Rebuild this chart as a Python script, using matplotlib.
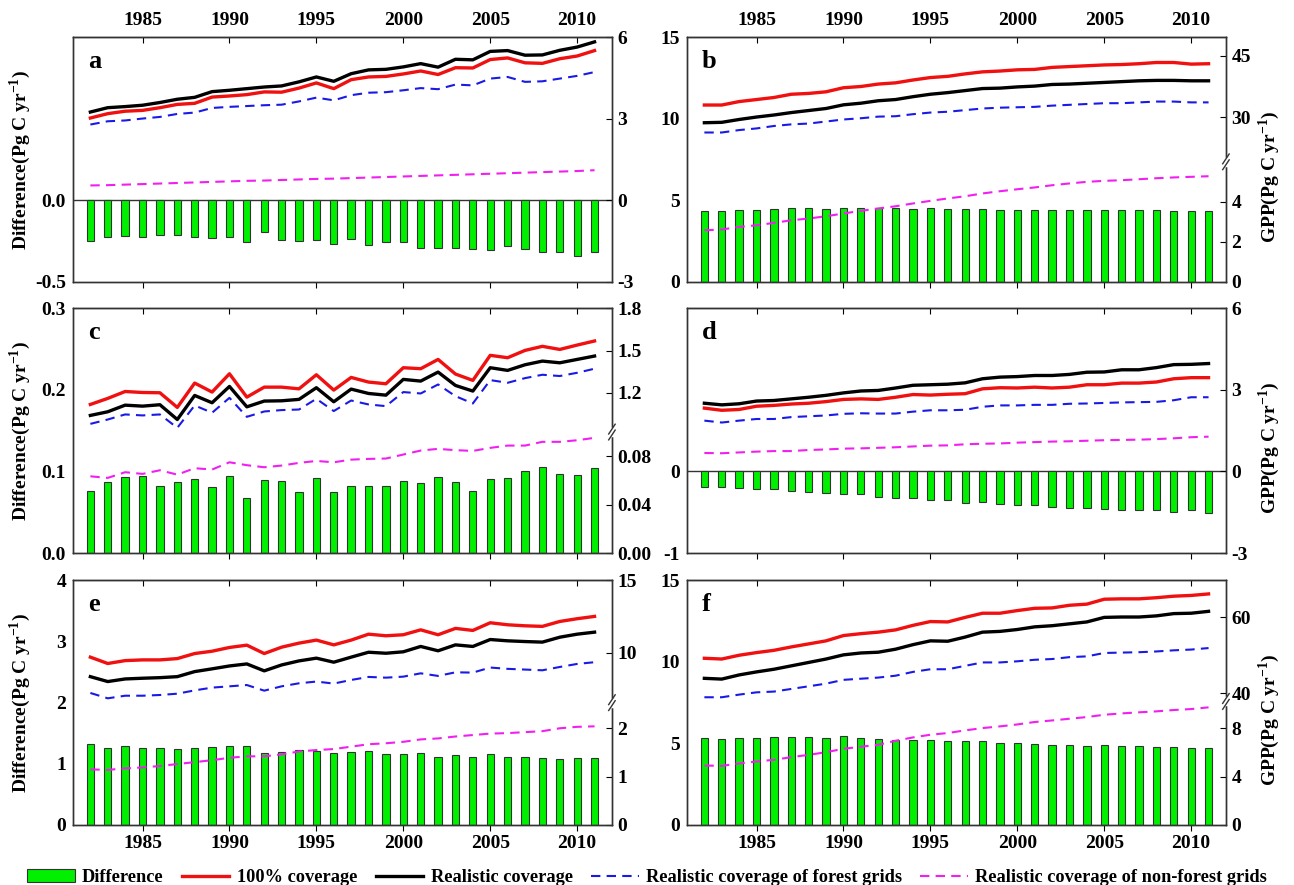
import numpy as np
import matplotlib
matplotlib.use('Agg')
import matplotlib.pyplot as plt
from matplotlib.patches import Patch
from matplotlib.lines import Line2D

plt.rcParams['font.family'] = ['Liberation Serif', 'DejaVu Serif']
plt.rcParams['font.weight'] = 'bold'
plt.rcParams['axes.labelweight'] = 'bold'
plt.rcParams['axes.unicode_minus'] = False
plt.rcParams['mathtext.fontset'] = 'custom'
plt.rcParams['mathtext.rm'] = 'Liberation Serif:bold'
plt.rcParams['mathtext.bf'] = 'Liberation Serif:bold'

years = list(range(1982, 2012))
year_ticks = [1985, 1990, 1995, 2000, 2005, 2010]

# ---- panel a
a_diff = [-0.246, -0.223, -0.219, -0.223, -0.210, -0.213, -0.227, -0.231, -0.225, -0.254,
          -0.194, -0.240, -0.250, -0.244, -0.267, -0.235, -0.273, -0.254, -0.254, -0.290,
          -0.292, -0.294, -0.298, -0.302, -0.279, -0.298, -0.317, -0.317, -0.338, -0.317]
a_full = [3.03, 3.19, 3.28, 3.31, 3.41, 3.53, 3.57, 3.80, 3.84, 3.89,
          3.99, 3.98, 4.13, 4.32, 4.11, 4.44, 4.54, 4.56, 4.65, 4.76,
          4.63, 4.88, 4.87, 5.18, 5.24, 5.06, 5.04, 5.21, 5.31, 5.51]
a_real = [3.25, 3.41, 3.45, 3.50, 3.60, 3.72, 3.79, 4.00, 4.05, 4.11,
          4.17, 4.21, 4.36, 4.54, 4.38, 4.66, 4.80, 4.82, 4.91, 5.03,
          4.90, 5.19, 5.17, 5.48, 5.51, 5.34, 5.35, 5.52, 5.64, 5.83]
a_forest = [2.79, 2.91, 2.94, 3.01, 3.07, 3.18, 3.23, 3.40, 3.44, 3.47,
            3.50, 3.52, 3.64, 3.78, 3.68, 3.87, 3.96, 3.98, 4.05, 4.13,
            4.09, 4.26, 4.23, 4.48, 4.54, 4.36, 4.38, 4.48, 4.58, 4.72]
a_nonforest = [0.55, 0.56, 0.58, 0.60, 0.62, 0.64, 0.66, 0.68, 0.70, 0.72,
               0.73, 0.75, 0.77, 0.79, 0.80, 0.82, 0.84, 0.86, 0.88, 0.90,
               0.92, 0.94, 0.96, 0.98, 1.00, 1.02, 1.04, 1.06, 1.08, 1.11]

# ---- panel b
b_diff = [4.36, 4.38, 4.40, 4.42, 4.46, 4.52, 4.52, 4.50, 4.56, 4.54,
          4.56, 4.54, 4.50, 4.52, 4.48, 4.50, 4.48, 4.44, 4.44, 4.42,
          4.44, 4.42, 4.42, 4.42, 4.42, 4.40, 4.40, 4.38, 4.36, 4.34]
b_full = [32.95, 32.95, 33.8, 34.3, 34.8, 35.6, 35.8, 36.2, 37.2, 37.5,
          38.1, 38.4, 39.1, 39.7, 40.0, 40.6, 41.1, 41.3, 41.6, 41.7,
          42.2, 42.4, 42.6, 42.8, 42.9, 43.1, 43.4, 43.4, 43.0, 43.1]
b_real = [28.6, 28.7, 29.4, 30.0, 30.5, 31.1, 31.6, 32.1, 33.0, 33.4,
          34.0, 34.3, 35.0, 35.6, 36.0, 36.5, 37.0, 37.1, 37.4, 37.6,
          38.0, 38.1, 38.3, 38.5, 38.7, 38.9, 39.0, 39.0, 38.9, 38.9]
b_forest = [26.2, 26.2, 26.8, 27.2, 27.8, 28.2, 28.4, 28.9, 29.4, 29.7,
            30.1, 30.2, 30.7, 31.1, 31.3, 31.7, 32.1, 32.3, 32.4, 32.5,
            32.8, 33.0, 33.2, 33.4, 33.4, 33.6, 33.8, 33.8, 33.6, 33.6]
b_nonforest = [2.58, 2.62, 2.75, 2.83, 2.95, 3.08, 3.17, 3.28, 3.42, 3.55,
               3.67, 3.78, 3.92, 4.05, 4.17, 4.28, 4.42, 4.53, 4.63, 4.72,
               4.83, 4.92, 5.00, 5.05, 5.08, 5.13, 5.18, 5.22, 5.25, 5.28]

# ---- panel c
c_diff = [0.0765, 0.0875, 0.0933, 0.0949, 0.0826, 0.0867, 0.0908, 0.0810, 0.0940, 0.0675,
          0.0896, 0.0883, 0.0753, 0.0920, 0.0753, 0.0822, 0.0822, 0.0822, 0.0888, 0.0855,
          0.0933, 0.0867, 0.0761, 0.0912, 0.0920, 0.1002, 0.1060, 0.0973, 0.0961, 0.1043]
c_full = [1.117, 1.160, 1.209, 1.202, 1.200, 1.096, 1.269, 1.205, 1.335, 1.169,
          1.240, 1.240, 1.228, 1.328, 1.219, 1.309, 1.276, 1.264, 1.378, 1.371,
          1.437, 1.333, 1.288, 1.466, 1.449, 1.501, 1.530, 1.508, 1.539, 1.568]
c_real = [1.039, 1.065, 1.112, 1.105, 1.115, 1.010, 1.181, 1.129, 1.245, 1.100,
          1.141, 1.143, 1.153, 1.236, 1.136, 1.226, 1.195, 1.183, 1.295, 1.283,
          1.347, 1.252, 1.212, 1.378, 1.359, 1.399, 1.425, 1.413, 1.437, 1.461]
c_forest = [0.979, 1.010, 1.046, 1.039, 1.046, 0.951, 1.110, 1.058, 1.164, 1.029,
            1.067, 1.077, 1.081, 1.157, 1.070, 1.145, 1.117, 1.105, 1.205, 1.195,
            1.259, 1.176, 1.124, 1.290, 1.271, 1.304, 1.328, 1.319, 1.342, 1.371]
c_nonforest = [0.0634, 0.0621, 0.0668, 0.0654, 0.0684, 0.0648, 0.0701, 0.0690, 0.0750, 0.0726,
               0.0709, 0.0723, 0.0745, 0.0761, 0.0750, 0.0772, 0.0778, 0.0781, 0.0814, 0.0847,
               0.0861, 0.0850, 0.0844, 0.0869, 0.0888, 0.0888, 0.0919, 0.0919, 0.0932, 0.0952]

# ---- panel d
d_diff = [-0.185, -0.185, -0.198, -0.210, -0.218, -0.235, -0.247, -0.259, -0.272, -0.272,
          -0.313, -0.321, -0.321, -0.350, -0.346, -0.383, -0.379, -0.395, -0.416, -0.412,
          -0.436, -0.449, -0.449, -0.457, -0.469, -0.473, -0.473, -0.494, -0.477, -0.510]
d_full = [2.33, 2.25, 2.28, 2.40, 2.43, 2.48, 2.51, 2.57, 2.65, 2.67,
          2.65, 2.73, 2.83, 2.81, 2.84, 2.86, 3.04, 3.08, 3.07, 3.10,
          3.07, 3.10, 3.19, 3.19, 3.25, 3.25, 3.29, 3.41, 3.45, 3.45]
d_real = [2.51, 2.45, 2.49, 2.59, 2.61, 2.67, 2.73, 2.80, 2.89, 2.96,
          2.98, 3.07, 3.17, 3.19, 3.21, 3.26, 3.41, 3.47, 3.49, 3.53,
          3.53, 3.57, 3.65, 3.66, 3.74, 3.74, 3.82, 3.93, 3.94, 3.97]
d_forest = [1.87, 1.80, 1.87, 1.93, 1.93, 2.00, 2.03, 2.06, 2.12, 2.14,
            2.13, 2.13, 2.20, 2.25, 2.25, 2.27, 2.38, 2.43, 2.43, 2.45,
            2.45, 2.49, 2.50, 2.52, 2.54, 2.55, 2.56, 2.62, 2.73, 2.73]
d_nonforest = [0.68, 0.67, 0.70, 0.73, 0.75, 0.75, 0.79, 0.81, 0.84, 0.85,
               0.87, 0.89, 0.92, 0.95, 0.96, 1.00, 1.02, 1.03, 1.06, 1.08,
               1.10, 1.11, 1.13, 1.15, 1.16, 1.17, 1.19, 1.22, 1.26, 1.28]

# ---- panel e
e_diff = [1.326, 1.255, 1.287, 1.266, 1.260, 1.249, 1.266, 1.277, 1.293, 1.298,
          1.178, 1.200, 1.233, 1.217, 1.173, 1.200, 1.217, 1.157, 1.162, 1.184,
          1.113, 1.151, 1.113, 1.162, 1.107, 1.107, 1.091, 1.080, 1.091, 1.097]
e_full = [9.68, 9.24, 9.44, 9.49, 9.49, 9.58, 9.93, 10.09, 10.35, 10.51,
          9.93, 10.37, 10.65, 10.86, 10.53, 10.86, 11.27, 11.16, 11.23, 11.57,
          11.23, 11.67, 11.53, 12.06, 11.92, 11.85, 11.81, 12.15, 12.34, 12.50]
e_real = [8.33, 7.99, 8.17, 8.22, 8.26, 8.33, 8.68, 8.87, 9.07, 9.21,
          8.73, 9.14, 9.42, 9.61, 9.33, 9.68, 10.02, 9.95, 10.05, 10.42,
          10.12, 10.53, 10.42, 10.90, 10.81, 10.76, 10.72, 11.06, 11.27, 11.41]
e_forest = [7.20, 6.83, 7.01, 7.01, 7.06, 7.15, 7.38, 7.57, 7.66, 7.75,
            7.36, 7.66, 7.87, 7.99, 7.85, 8.10, 8.31, 8.26, 8.33, 8.56,
            8.38, 8.63, 8.61, 8.96, 8.87, 8.82, 8.77, 9.00, 9.21, 9.33]
e_nonforest = [1.15, 1.14, 1.17, 1.19, 1.22, 1.26, 1.30, 1.34, 1.39, 1.42,
               1.42, 1.46, 1.52, 1.55, 1.57, 1.62, 1.67, 1.69, 1.72, 1.77,
               1.79, 1.83, 1.86, 1.89, 1.90, 1.92, 1.94, 2.00, 2.03, 2.04]

# ---- panel f
f_diff = [5.32, 5.28, 5.36, 5.36, 5.38, 5.38, 5.38, 5.36, 5.44, 5.36,
          5.30, 5.24, 5.24, 5.24, 5.13, 5.15, 5.13, 5.05, 5.01, 4.99,
          4.93, 4.89, 4.85, 4.89, 4.85, 4.83, 4.81, 4.76, 4.74, 4.74]
f_full = [49.2, 49.0, 50.0, 50.7, 51.3, 52.2, 53.0, 53.8, 55.2, 55.7,
          56.1, 56.7, 57.9, 58.9, 58.8, 60.0, 61.1, 61.1, 61.8, 62.4,
          62.5, 63.2, 63.5, 64.8, 64.9, 64.9, 65.2, 65.6, 65.8, 66.2]
f_real = [43.9, 43.7, 44.8, 45.6, 46.3, 47.2, 48.1, 49.0, 50.1, 50.6,
          50.8, 51.6, 52.8, 53.8, 53.7, 54.8, 56.1, 56.3, 56.8, 57.5,
          57.8, 58.3, 58.8, 60.0, 60.1, 60.1, 60.4, 61.0, 61.1, 61.6]
f_forest = [38.9, 38.9, 39.6, 40.2, 40.4, 41.1, 41.8, 42.5, 43.5, 43.8,
            44.1, 44.6, 45.6, 46.3, 46.3, 47.2, 48.1, 48.1, 48.4, 48.8,
            49.0, 49.5, 49.7, 50.6, 50.7, 50.8, 51.0, 51.3, 51.5, 51.9]
f_nonforest = [4.91, 4.88, 5.08, 5.24, 5.38, 5.60, 5.79, 6.01, 6.29, 6.46,
               6.62, 6.95, 7.23, 7.45, 7.59, 7.81, 8.00, 8.14, 8.30, 8.50,
               8.63, 8.77, 8.91, 9.10, 9.21, 9.30, 9.38, 9.49, 9.57, 9.71]

GREEN = '#00f000'
RED = '#f01010'
BLUE = '#1a1ae6'
MAGENTA = '#f020f0'
FS = 14
DASH = (4.5, 3)
LW_SOLID = 2.4
LW_DASH = 1.5


def broken_scale(lo0, lo1, up0, up1, f):
    # piecewise linear: [lo0, lo1] -> [0, f], [up0, up1] -> [f, 1]
    def fwd(v):
        v = np.asarray(v, dtype=float)
        low = (v - lo0) / (lo1 - lo0) * f
        high = f + (v - up0) / (up1 - up0) * (1 - f)
        return np.where(v <= lo1, low, np.where(v >= up0, high, f))

    def inv(t):
        t = np.asarray(t, dtype=float)
        return np.where(t <= f, lo0 + t / f * (lo1 - lo0),
                        up0 + (t - f) / (1 - f) * (up1 - up0))
    return fwd, inv


def panel(rect, letter, diff, full, real, forest, nonforest,
          left_lim, left_ticks, left_labels, right_ticks, right_labels,
          right_lin=None, right_break=None, row=0, col=0):
    ax = fig.add_axes(rect)
    ax.bar(years, diff, width=0.42, color=GREEN, edgecolor='#333333',
           linewidth=0.8, zorder=2)
    if left_lim[0] < 0:
        ax.axhline(0, color='#333333', lw=1.0, zorder=1)
    ax.set_xlim(1981, 2012)
    ax.set_ylim(*left_lim)
    ax.set_yticks(left_ticks, left_labels)
    ax.tick_params(axis='y', length=0, labelsize=FS, pad=5)
    ax.set_xticks(year_ticks)
    ax.tick_params(axis='x', direction='out', length=4, labelsize=FS,
                   labelbottom=(row == 2))
    top = ax.secondary_xaxis('top')
    top.set_xticks(year_ticks)
    top.tick_params(direction='in', length=4, labelsize=FS,
                    labeltop=(row == 0), pad=6)

    ax2 = ax.twinx()
    if right_break is not None:
        lo0, lo1, up0, up1, f = right_break
        ax2.set_yscale('function', functions=broken_scale(lo0, lo1, up0, up1, f))
        ax2.set_ylim(lo0, up1)
    else:
        ax2.set_ylim(*right_lin)
    ax2.plot(years, full, color=RED, lw=LW_SOLID)
    ax2.plot(years, real, color='black', lw=LW_SOLID)
    ax2.plot(years, forest, color=BLUE, lw=LW_DASH, dashes=DASH)
    ax2.plot(years, nonforest, color=MAGENTA, lw=LW_DASH, dashes=DASH)
    ax2.set_yticks(right_ticks, right_labels)
    ax2.yaxis.set_minor_locator(plt.NullLocator())
    ax2.tick_params(axis='y', direction='in', length=4, labelsize=FS, pad=4)

    if right_break is not None:
        f = right_break[4]
        ax2.plot([1, 1], [f - 0.012, f + 0.012], color='white', lw=2.5,
                 transform=ax2.transAxes, clip_on=False, zorder=5)
        for off in (-0.012, 0.012):
            ax2.plot([1 - 0.006, 1 + 0.006], [f + off - 0.02, f + off + 0.02],
                     color='#333333', lw=1.0, transform=ax2.transAxes,
                     clip_on=False, zorder=6)

    for a in (ax, ax2):
        for s in a.spines.values():
            s.set_color('#333333')
            s.set_linewidth(1.0)

    ax.text(0.028, 0.9, letter, transform=ax.transAxes, fontsize=19,
            fontweight='bold', va='center', ha='left')
    if col == 0:
        ax.set_ylabel('Difference(Pg C yr$^{-1}$)', fontsize=FS)
        ax.yaxis.set_label_coords(-0.074, 0.5)
    else:
        ax2.set_ylabel('GPP(Pg C yr$^{-1}$)', fontsize=FS)
        ax2.yaxis.set_label_coords(1.056, 0.43)
    return ax, ax2


fig = plt.figure(figsize=(12.94, 8.85), dpi=100)

lx, rx, cw = 0.0564, 0.5309, 0.4165
rows_y = [0.6814, 0.3751, 0.0678]
rh = 0.2765

panel([lx, rows_y[0], cw, rh], 'a', a_diff, a_full, a_real, a_forest, a_nonforest,
      (-0.5, 1.0), [-0.5, 0.0], ['-0.5', '0.0'], [-3, 0, 3, 6], ['-3', '0', '3', '6'],
      right_lin=(-3, 6), row=0, col=0)
panel([rx, rows_y[0], cw, rh], 'b', b_diff, b_full, b_real, b_forest, b_nonforest,
      (0, 15), [0, 5, 10, 15], ['0', '5', '10', '15'],
      [0, 2, 4, 30, 45], ['0', '2', '4', '30', '45'],
      right_break=(0, 6.0, 19.0, 49.6, 0.491), row=0, col=1)
panel([lx, rows_y[1], cw, rh], 'c', c_diff, c_full, c_real, c_forest, c_nonforest,
      (0, 0.3), [0, 0.1, 0.2, 0.3], ['0.0', '0.1', '0.2', '0.3'],
      [0, 0.04, 0.08, 1.2, 1.5, 1.8], ['0.00', '0.04', '0.08', '1.2', '1.5', '1.8'],
      right_break=(0, 0.1, 0.921, 1.8, 0.4945), row=1, col=0)
panel([rx, rows_y[1], cw, rh], 'd', d_diff, d_full, d_real, d_forest, d_nonforest,
      (-1, 2), [-1, 0], ['-1', '0'], [-3, 0, 3, 6], ['-3', '0', '3', '6'],
      right_lin=(-3, 6), row=1, col=1)
panel([lx, rows_y[2], cw, rh], 'e', e_diff, e_full, e_real, e_forest, e_nonforest,
      (0, 4), [0, 1, 2, 3, 4], ['0', '1', '2', '3', '4'],
      [0, 1, 2, 10, 15], ['0', '1', '2', '10', '15'],
      right_break=(0, 2.53, 6.53, 15, 0.5), row=2, col=0)
panel([rx, rows_y[2], cw, rh], 'f', f_diff, f_full, f_real, f_forest, f_nonforest,
      (0, 15), [0, 5, 10, 15], ['0', '5', '10', '15'],
      [0, 4, 8, 40, 60], ['0', '4', '8', '40', '60'],
      right_break=(0, 10.2, 37.8, 69.8, 0.505), row=2, col=1)

handles = [
    Patch(facecolor=GREEN, edgecolor='#333333', linewidth=0.8),
    Line2D([], [], color=RED, lw=LW_SOLID),
    Line2D([], [], color='black', lw=LW_SOLID),
    Line2D([], [], color=BLUE, lw=LW_DASH, dashes=DASH),
    Line2D([], [], color=MAGENTA, lw=LW_DASH, dashes=DASH),
]
labels = ['Difference', '100% coverage', 'Realistic coverage',
          'Realistic coverage of forest grids',
          'Realistic coverage of non-forest grids']
fig.legend(handles, labels, loc='lower center', bbox_to_anchor=(0.5, -0.02),
           ncol=5, frameon=False, fontsize=13.2, handlelength=2.6,
           handletextpad=0.4, columnspacing=1.0)

fig.savefig('out.png', dpi=100)
